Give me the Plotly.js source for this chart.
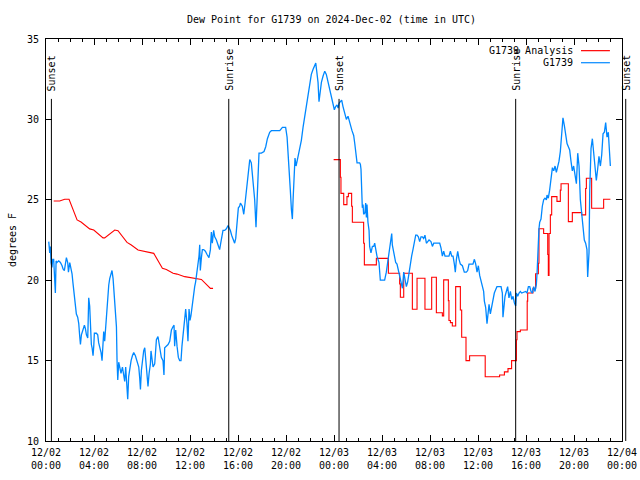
<!DOCTYPE html>
<html>
<head>
<meta charset="utf-8">
<script src="https://cdn.plot.ly/plotly-3.0.1.min.js"></script>
<style>html,body{margin:0;padding:0;background:#fff;}#chart{width:640px;height:480px;}</style>
</head>
<body>
<div id="chart"></div>
<script>
// ---- Data (hours after 2024-12-02 00:00 UTC) ----
const startDate = '2024-12-02 00:00:00';
const endDate = '2024-12-04 00:00:00';

const obsName = 'G1739';
const obsHours = [0.23,0.31,0.37,0.42,0.50,0.56,0.64,0.70,0.78,0.84,0.92,1.06,1.20,1.34,1.42,1.53,1.62,1.70,1.81,1.87,1.98,2.09,2.17,2.25,2.37,2.45,2.53,2.64,2.73,2.81,2.87,2.95,3.09,3.20,3.28,3.37,3.48,3.56,3.64,3.70,3.78,3.84,3.92,3.98,4.03,4.20,4.31,4.39,4.48,4.59,4.67,4.75,4.81,4.89,4.95,5.03,5.14,5.23,5.31,5.42,5.50,5.59,5.70,5.78,5.87,5.92,5.98,6.06,6.14,6.25,6.37,6.48,6.56,6.64,6.73,6.81,6.89,6.98,7.09,7.20,7.31,7.45,7.59,7.73,7.81,7.87,7.95,8.03,8.14,8.23,8.31,8.42,8.50,8.59,8.70,8.75,8.84,8.92,
9.06,9.20,9.33,9.47,9.61,9.75,9.83,9.89,10.03,10.17,10.31,10.45,10.58,10.67,10.72,10.81,10.92,11.03,11.14,11.25,11.33,11.42,11.50,11.64,11.75,11.83,11.92,12.00,12.08,12.20,12.31,12.39,12.47,12.58,12.67,12.75,12.81,12.86,12.95,13.03,13.14,13.28,13.42,13.58,13.70,13.78,13.86,13.92,13.97,14.06,14.20,14.33,14.47,14.56,14.64,14.75,14.89,15.03,15.17,15.25,15.36,15.47,15.58,15.72,15.81,15.92,16.03,16.14,
16.20,16.36,16.48,16.59,16.70,16.84,16.98,17.11,17.25,17.39,17.50,17.59,17.67,17.75,17.95,18.17,18.31,18.45,18.64,18.78,19.06,19.48,19.70,19.97,20.09,20.17,20.25,20.36,20.45,20.53,20.59,20.67,20.75,20.84,20.92,21.03,21.14,21.28,21.42,21.56,21.70,21.84,21.98,22.11,22.25,22.39,22.48,22.56,22.67,22.75,22.86,22.95,23.09,23.23,23.36,23.50,23.64,23.78,23.92,24.03,24.14,24.25,24.34,24.42,24.53,24.64,24.75,24.84,24.95,25.03,25.17,25.25,25.39,25.50,25.64,25.73,25.81,25.92,26.14,
26.20,26.25,26.31,26.36,26.42,26.47,26.58,26.64,26.70,26.75,26.83,26.92,26.97,27.08,27.20,27.31,27.39,27.47,27.58,27.75,27.81,27.86,28.03,28.22,28.36,28.47,28.58,28.70,28.81,28.86,28.92,29.03,29.14,29.25,29.36,29.47,29.58,29.70,29.81,29.92,30.03,30.14,30.25,30.36,30.47,30.58,30.70,30.81,30.92,31.03,31.14,31.25,31.36,31.47,31.58,31.70,31.81,31.92,
32.08,32.20,32.31,32.53,32.81,32.92,33.03,33.14,33.25,33.58,33.70,33.81,33.92,34.03,34.11,34.20,34.31,34.42,34.53,34.70,34.86,35.03,35.14,35.25,35.58,35.70,35.81,35.92,36.03,36.14,36.25,36.36,36.47,36.53,36.64,36.75,36.81,36.92,37.03,37.14,37.25,37.36,37.47,37.58,37.92,38.03,38.08,38.14,38.25,38.36,38.47,38.58,38.70,38.81,38.92,39.03,39.14,39.20,39.31,39.42,39.53,39.64,39.86,39.97,40.08,40.20,40.31,
40.42,40.53,40.64,40.75,40.86,40.92,40.97,41.03,41.08,41.14,41.25,41.36,41.47,41.58,41.70,41.75,41.86,41.97,42.08,42.20,42.31,42.42,42.53,42.64,42.75,42.86,42.97,43.08,43.20,43.31,43.42,43.53,43.64,43.75,43.86,43.97,44.08,44.20,44.31,44.42,44.53,44.64,44.75,44.86,44.97,45.08,45.14,45.20,45.25,45.31,45.42,45.53,45.64,45.75,45.86,45.97,46.08,46.20,46.31,46.42,46.53,46.64,46.75,46.86,46.97,47.03];
const obsDewF = [22.4,21.7,22.1,21.1,20.8,21.3,21.3,20.3,19.2,21.2,21.1,21.2,21.1,20.9,20.7,20.6,21.2,21.4,21.1,20.5,21.1,20.7,20.4,19.8,19.1,18.5,17.9,17.7,17.3,16.5,16.0,16.6,17.0,17.2,17.0,16.6,16.4,18.9,18.4,16.9,16.0,15.8,15.3,15.9,16.7,16.7,16.6,16.1,15.8,15.5,15.0,16.1,16.8,16.2,16.9,17.8,18.8,19.7,20.1,20.4,20.6,20.1,19.1,18.4,17.1,15.0,13.8,14.9,14.5,14.2,14.6,14.0,13.7,14.6,13.2,12.6,14.0,14.6,15.0,15.3,15.5,15.3,15.0,14.6,13.9,13.2,14.4,15.1,15.6,15.8,15.2,14.3,13.4,14.2,14.8,15.6,15.0,14.6,
14.8,16.3,16.5,15.7,15.2,15.0,14.1,15.8,15.9,16.0,16.2,16.9,17.1,17.2,15.9,16.9,15.9,15.2,15.0,15.0,15.9,16.5,17.3,18.2,17.3,16.2,18.2,17.5,17.8,18.6,19.2,19.6,19.9,20.5,21.2,21.5,22.2,20.6,21.4,21.9,21.9,21.8,21.6,21.4,21.9,23.0,22.3,23.1,23.1,22.7,22.5,22.2,21.9,22.3,22.7,23.1,23.1,23.2,23.4,23.3,23.1,22.8,22.6,22.3,22.6,23.4,24.5,24.6,
24.8,24.6,24.1,24.8,25.5,26.4,27.5,27.3,26.2,25.0,23.3,24.8,26.4,27.9,27.9,28.0,28.3,28.8,29.2,29.3,29.3,29.3,29.5,29.5,28.9,28.1,26.9,25.6,24.4,23.8,25.0,26.2,27.6,27.1,27.4,27.7,28.1,28.7,29.5,30.2,30.9,31.6,32.3,32.8,33.1,33.4,33.5,33.0,32.3,31.1,31.8,32.3,32.7,33.0,32.8,32.3,31.8,31.4,30.9,30.6,30.8,30.9,30.7,31.0,31.1,31.2,30.8,30.5,30.2,30.0,30.2,29.9,29.6,29.3,29.0,28.5,27.9,27.3,27.3,
27.2,26.9,25.1,24.5,24.7,24.1,24.2,24.8,23.9,24.7,23.6,23.1,22.1,21.7,22.1,22.1,22.3,21.9,21.5,21.1,20.6,20.0,20.0,20.0,20.5,21.1,21.8,22.3,22.9,22.2,21.9,21.5,21.1,21.0,20.6,20.3,19.9,19.5,20.5,19.9,19.6,19.9,20.5,21.1,21.5,21.9,22.3,22.8,22.8,22.7,22.4,22.7,22.7,22.6,22.8,22.3,22.4,22.5,
22.4,22.1,22.3,22.3,22.3,22.0,21.5,21.8,21.5,21.5,21.8,21.5,21.5,21.0,20.5,21.3,21.8,21.3,21.0,20.9,20.5,20.5,20.6,21.0,21.0,21.3,21.0,20.5,20.9,20.3,20.0,19.6,19.3,18.7,18.3,17.3,17.9,18.5,17.9,18.4,18.8,19.2,19.4,19.6,19.6,19.2,17.7,18.4,19.0,19.3,19.6,18.9,19.3,18.8,19.0,18.6,18.4,19.2,19.0,19.2,19.3,19.2,19.3,19.3,19.2,19.6,19.6,
19.3,19.2,19.6,19.3,19.7,20.4,21.7,22.9,23.2,23.6,23.8,24.6,25.0,25.1,25.0,25.3,25.1,25.6,26.2,27.0,26.8,27.1,26.7,27.0,27.4,28.0,28.9,30.1,29.6,29.1,28.5,28.3,28.1,27.4,26.8,27.1,26.4,26.0,27.9,27.1,25.0,24.2,23.5,22.5,22.3,21.9,20.2,21.3,21.7,25.6,28.2,28.8,27.9,27.2,26.2,26.9,27.7,27.1,27.8,29.1,29.2,29.8,28.9,29.2,27.6,27.1];

const anaName = 'G1739 Analysis';
const anaHours1 = [0.64,1.14,1.56,1.92,2.59,2.92,3.64,3.98,4.75,4.89,5.73,6.00,6.75,7.11,7.67,8.36,8.98,9.70,10.03,10.59,10.92,11.56,12.53,12.95,13.70,13.92];
const anaDew1 = [24.93,24.93,25.03,25.03,23.75,23.62,23.19,23.12,22.63,22.63,23.12,23.08,22.35,22.19,21.88,21.77,21.67,20.74,20.67,20.43,20.38,20.22,20.07,20.05,19.49,19.49];
const anaHours2 = [23.97,24.53,24.58,24.81,25.08,25.20,25.47,25.53,26.47,26.53,27.53,28.53,29.47,29.53,29.81,30.53,30.92,31.58,32.14,32.53,33.03,33.14,33.53,33.58,33.70,33.86,34.14,34.53,34.64,35.0,35.3,36.6,37.8,38.2,38.5,38.8,39.2,39.25,39.53,40.1,40.14,40.58,40.8,41.03,41.08,41.47,41.81,41.86,41.92,42.03,42.14,42.58,42.86,42.92,43.53,43.86,44.64,44.97,45.03,45.47,46.47,47.03];
const anaDew2 = [27.5,26.4,25.4,24.7,25.2,25.4,24.6,23.6,22.3,20.95,21.36,20.43,19.77,18.94,20.43,18.19,20.12,18.19,20.18,17.98,17.78,20.02,18.73,17.49,17.36,17.15,19.6,18.15,16.45,15.0,15.3,14.0,14.1,14.3,14.5,15.0,16.3,16.8,16.9,18.7,19.2,19.5,20.4,21.05,23.2,22.9,21.6,20.3,22.9,24.06,25.2,24.9,25.6,26.0,23.64,24.2,24.06,25.7,26.34,24.47,25.03,25.03];

const sunHours = [0.45,15.23,24.42,39.14,48.31];
const sunLabels = ['Sunset','Sunrise','Sunset','Sunrise','Sunset'];

const obsColor = 'rgb(0,136,255)';
const anaColor = 'rgb(255,0,0)';

// ---- helpers ----
const T0 = Date.UTC(2024, 11, 2);
const spanHours = 48;
function toDate(h) {
  const d = new Date(T0 + Math.round(h * 3600) * 1000);
  return d.toISOString().slice(0, 19).replace('T', ' ');
}

const traces = [
  {x: anaHours1.map(toDate), y: anaDew1, name: anaName, type: 'scatter', mode: 'lines',
   line: {color: anaColor, width: 1.1}},
  {x: anaHours2.map(toDate), y: anaDew2, name: anaName, type: 'scatter', mode: 'lines',
   line: {color: anaColor, width: 1.1, shape: 'hv'}},
  {x: obsHours.map(toDate), y: obsDewF, name: obsName, type: 'scatter', mode: 'lines',
   line: {color: obsColor, width: 1.3}}
];

const shapes = [];
const annotations = [];
const lineTop = 0.851, labelBase = 0.868;
sunHours.forEach((h, i) => {
  const px = h / spanHours;
  shapes.push({type: 'line', xref: 'paper', yref: 'paper', x0: px, x1: px, y0: 0, y1: lineTop,
               line: {color: 'black', width: 1}});
  annotations.push({xref: 'paper', yref: 'paper', x: px, y: labelBase, text: sunLabels[i],
                    textangle: -90, showarrow: false, xanchor: 'center', yanchor: 'bottom',
                    font: {size: 10, color: 'black'}, borderpad: 0});
});

// legend (text right, sample line to the right, as in reference)
const legendItems = [{name: anaName, color: anaColor, y: 0.971}, {name: obsName, color: obsColor, y: 0.941}];
legendItems.forEach(it => {
  annotations.push({xref: 'paper', yref: 'paper', x: 0.9167, y: it.y, text: it.name, showarrow: false,
                    xanchor: 'right', yanchor: 'middle', font: {size: 10, color: 'black'}, borderpad: 0});
  shapes.push({type: 'line', xref: 'paper', yref: 'paper', x0: 0.9288, x1: 0.979, y0: it.y, y1: it.y,
               line: {color: it.color, width: 1.2}});
});

const layout = {
  width: 640, height: 480,
  margin: {l: 46, r: 18, t: 39, b: 39, pad: 0},
  paper_bgcolor: 'white', plot_bgcolor: 'white',
  font: {family: 'DejaVu Sans Mono, monospace', size: 10, color: 'black'},
  title: {text: 'Dew Point for G1739 on 2024-Dec-02 (time in UTC)', xref: 'container', x: 0.518,
          yref: 'container', y: 0.96, xanchor: 'center', yanchor: 'middle', font: {size: 10}},
  showlegend: false,
  xaxis: {type: 'date', range: [startDate, endDate], tick0: startDate, dtick: 14400000,
          tickformat: '%m/%d<br>%H:%M', ticks: 'inside', ticklen: 6, tickcolor: 'black', tickwidth: 1,
          ticklabelstandoff: 2,
          showline: true, linecolor: 'black', linewidth: 1, mirror: 'ticks',
          showgrid: false, zeroline: false,
          minor: {dtick: 3600000, ticks: 'inside', ticklen: 3, tickcolor: 'black', showgrid: false}},
  yaxis: {range: [10, 35], dtick: 5, ticks: 'inside', ticklen: 6, tickcolor: 'black', tickwidth: 1,
          ticklabelstandoff: 4,
          showline: true, linecolor: 'black', linewidth: 1, mirror: 'ticks',
          showgrid: false, zeroline: false,
          title: {text: 'degrees F', font: {size: 10}, standoff: 8}},
  shapes: shapes,
  annotations: annotations
};

Plotly.newPlot('chart', traces, layout, {staticPlot: true, displayModeBar: false});
</script>
</body>
</html>
